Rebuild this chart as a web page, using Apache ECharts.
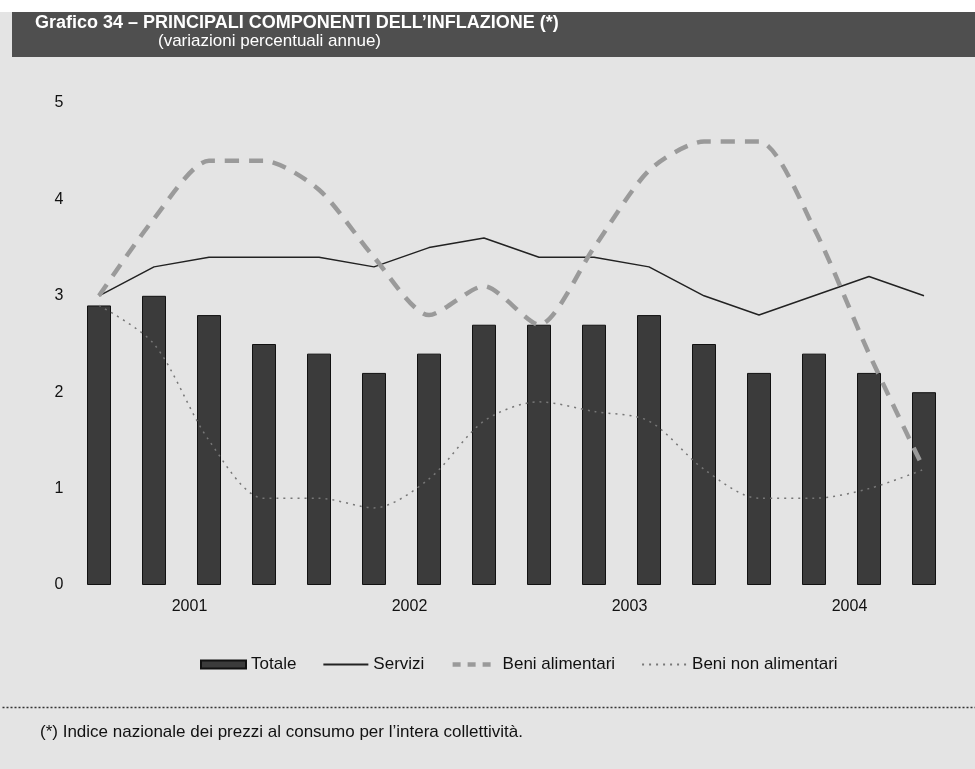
<!DOCTYPE html>
<html>
<head>
<meta charset="utf-8">
<title>Grafico 34</title>
<script src="https://cdn.jsdelivr.net/npm/echarts@6/dist/echarts.min.js"></script>
<style>
  html, body { margin: 0; padding: 0; background: #e4e4e4; }
  #chart { width: 975px; height: 769px; }
</style>
</head>
<body>
<div id="chart"></div>
<script>
// trimestri 2001-2004
const quarters = ['I 01', 'II 01', 'III 01', 'IV 01', 'I 02', 'II 02', 'III 02', 'IV 02',
  'I 03', 'II 03', 'III 03', 'IV 03', 'I 04', 'II 04', 'III 04', 'IV 04'];
const years = ['2001', '2002', '2003', '2004'];
const yTicks = [0, 1, 2, 3, 4, 5];

const totale = [2.9, 3.0, 2.8, 2.5, 2.4, 2.2, 2.4, 2.7, 2.7, 2.7, 2.8, 2.5, 2.2, 2.4, 2.2, 2.0];
const servizi = [3.0, 3.3, 3.4, 3.4, 3.4, 3.3, 3.5, 3.6, 3.4, 3.4, 3.3, 3.0, 2.8, 3.0, 3.2, 3.0];
const beniAlimentari = [3.0, 3.8, 4.4, 4.4, 4.1, 3.4, 2.8, 3.1, 2.7, 3.5, 4.3, 4.6, 4.6, 3.7, 2.4, 1.2];
const beniNonAlimentari = [2.9, 2.5, 1.5, 0.9, 0.9, 0.8, 1.1, 1.7, 1.9, 1.8, 1.7, 1.2, 0.9, 0.9, 1.0, 1.2];

const font = 'Liberation Sans, Arial, sans-serif';

let myChart = echarts.init(document.getElementById('chart'));
let option = {
  backgroundColor: '#e4e4e4',
  animation: false,
  textStyle: { fontFamily: font },
  graphic: [
    { type: 'rect', left: 0, top: 0, shape: { width: 975, height: 12 }, style: { fill: '#ffffff' } },
    { type: 'rect', left: 12, top: 12, shape: { width: 963, height: 45 }, style: { fill: '#4f4f4f' } },
    {
      type: 'text', left: 35, top: 14,
      style: { text: 'Grafico 34 – PRINCIPALI COMPONENTI DELL\u2019INFLAZIONE (*)', fill: '#ffffff',
        font: 'bold 18px ' + font }
    },
    {
      type: 'text', left: 158, top: 33,
      style: { text: '(variazioni percentuali annue)', fill: '#ffffff', font: '17px ' + font }
    },
    {
      type: 'line', left: 0, top: 705,
      shape: { x1: 0, y1: 0, x2: 975, y2: 0 },
      style: { stroke: '#333333', lineWidth: 1.5, lineDash: [2, 2] }
    },
    {
      type: 'text', left: 40, top: 724,
      style: { text: '(*) Indice nazionale dei prezzi al consumo per l\u2019intera collettività.',
        fill: '#111111', font: '17px ' + font }
    }
  ],
  legend: {
    left: 195,
    top: 651,
    itemWidth: 45,
    itemHeight: 8,
    itemGap: 26,
    textStyle: { fontSize: 17, color: '#111', fontFamily: font },
    data: [
      { name: 'Totale', icon: 'rect' },
      { name: 'Servizi', itemStyle: { opacity: 0 } },
      { name: 'Beni alimentari', itemStyle: { opacity: 0 }, lineStyle: { width: 4.5, type: [8, 7] } },
      { name: 'Beni non alimentari', itemStyle: { opacity: 0 } }
    ]
  },
  grid: { left: 71.5, right: 23.5, top: 103, bottom: 184 },
  xAxis: [
    {
      type: 'category',
      data: quarters,
      axisLine: { show: false },
      axisTick: { show: false },
      axisLabel: { show: false }
    },
    {
      type: 'category',
      data: years,
      position: 'bottom',
      axisLine: { show: false },
      axisTick: { show: false },
      axisLabel: { margin: 14, fontSize: 16, color: '#111', fontFamily: font, padding: [0, 0, 0, 16] }
    }
  ],
  yAxis: {
    type: 'value',
    min: yTicks[0],
    max: yTicks[yTicks.length - 1],
    interval: 1,
    splitLine: { show: false },
    axisLine: { show: false },
    axisTick: { show: false },
    axisLabel: { margin: 8, fontSize: 16, color: '#111', fontFamily: font }
  },
  series: [
    {
      name: 'Totale',
      type: 'bar',
      data: totale,
      barWidth: 24,
      itemStyle: { color: '#3b3b3b', borderColor: '#111111', borderWidth: 1 }
    },
    {
      name: 'Servizi',
      type: 'line',
      data: servizi,
      symbol: 'none',
      lineStyle: { color: '#222222', width: 1.5 },
      itemStyle: { color: '#222222' }
    },
    {
      name: 'Beni alimentari',
      type: 'line',
      data: beniAlimentari,
      symbol: 'none',
      smooth: 0.25,
      lineStyle: { color: '#9a9a9a', width: 4.5, type: [14, 10] },
      itemStyle: { color: '#9a9a9a' }
    },
    {
      name: 'Beni non alimentari',
      type: 'line',
      data: beniNonAlimentari,
      symbol: 'none',
      smooth: 0.3,
      lineStyle: { color: '#777777', width: 1.5, type: [2, 5] },
      itemStyle: { color: '#777777' }
    }
  ]
};
myChart.setOption(option);
</script>
</body>
</html>
